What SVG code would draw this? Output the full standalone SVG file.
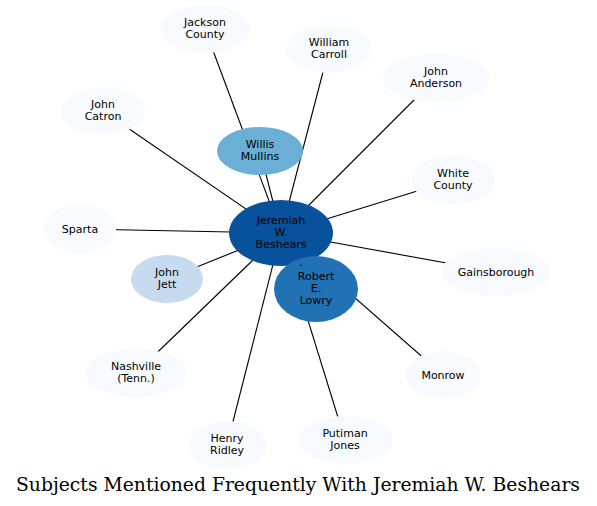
<svg xmlns="http://www.w3.org/2000/svg" width="597" height="506" viewBox="0 0 597 506">
<style>
.e line{stroke:#000;stroke-width:1.1}
.n ellipse{stroke:none}
.n text{font-family:"DejaVu Sans",sans-serif;font-size:11px;text-anchor:middle;fill:#000}
.l{fill:#f7fbff}
.t{font-family:"DejaVu Serif",serif;font-size:18.5px;text-anchor:middle;fill:#000}
</style>
<rect width="597" height="506" fill="#fff"/>
<g id="edges" class="e">
<line x1="205" y1="29" x2="281" y2="233"/>
<line x1="329" y1="49" x2="281" y2="233"/>
<line x1="436" y1="78" x2="281" y2="233"/>
<line x1="103" y1="111" x2="281" y2="233"/>
<line x1="260" y1="151" x2="281" y2="233"/>
<line x1="453" y1="180" x2="281" y2="233"/>
<line x1="80" y1="229" x2="281" y2="233"/>
<line x1="496" y1="272" x2="281" y2="233"/>
<line x1="167" y1="279" x2="281" y2="233"/>
<line x1="136" y1="373" x2="281" y2="233"/>
<line x1="227" y1="445" x2="281" y2="233"/>
<line x1="443" y1="375" x2="281" y2="233"/>
<line x1="345" y1="440" x2="281" y2="233"/>
<line x1="316" y1="289" x2="281" y2="233"/>
</g>
<g id="jackson" class="n"><ellipse class="l" cx="205" cy="29" rx="45" ry="24"/><text x="205" y="26">Jackson</text><text x="205" y="38">County</text></g>
<g id="william" class="n"><ellipse class="l" cx="329" cy="49" rx="43" ry="24"/><text x="329" y="46">William</text><text x="329" y="58">Carroll</text></g>
<g id="anderson" class="n"><ellipse class="l" cx="436" cy="78" rx="53" ry="24"/><text x="436" y="75">John</text><text x="436" y="87">Anderson</text></g>
<g id="catron" class="n"><ellipse class="l" cx="103" cy="111" rx="42" ry="24"/><text x="103" y="108">John</text><text x="103" y="120">Catron</text></g>
<g id="willis" class="n"><ellipse fill="#6baed6" cx="260" cy="151" rx="43" ry="24"/><text x="260" y="148">Willis</text><text x="260" y="160">Mullins</text></g>
<g id="white" class="n"><ellipse class="l" cx="453" cy="180" rx="42" ry="24"/><text x="453" y="177">White</text><text x="453" y="189">County</text></g>
<g id="sparta" class="n"><ellipse class="l" cx="80" cy="229" rx="36" ry="24"/><text x="80" y="232.5">Sparta</text></g>
<g id="jeremiah" class="n"><ellipse fill="#08519c" cx="281" cy="233" rx="52" ry="33"/><text x="281" y="224">Jeremiah</text><text x="281" y="236">W.</text><text x="281" y="248">Beshears</text></g>
<g id="gainsborough" class="n"><ellipse class="l" cx="496" cy="272" rx="55" ry="24"/><text x="496" y="275.5">Gainsborough</text></g>
<g id="jett" class="n"><ellipse fill="#c6dbef" cx="167" cy="279" rx="36" ry="24"/><text x="167" y="276">John</text><text x="167" y="288">Jett</text></g>
<g id="lowry" class="n"><ellipse fill="#2171b5" cx="316" cy="289" rx="42" ry="33"/><text x="301" y="266">.</text><text x="316" y="280">Robert</text><text x="316" y="292">E.</text><text x="316" y="304">Lowry</text></g>
<g id="nashville" class="n"><ellipse class="l" cx="136" cy="373" rx="51" ry="24"/><text x="136" y="370">Nashville</text><text x="136" y="382">(Tenn.)</text></g>
<g id="monrow" class="n"><ellipse class="l" cx="443" cy="375" rx="37" ry="24"/><text x="443" y="378.5">Monrow</text></g>
<g id="ridley" class="n"><ellipse class="l" cx="227" cy="445" rx="39" ry="24"/><text x="227" y="442">Henry</text><text x="227" y="454">Ridley</text></g>
<g id="putiman" class="n"><ellipse class="l" cx="345" cy="440" rx="47" ry="24"/><text x="345" y="437">Putiman</text><text x="345" y="449">Jones</text></g>
<text class="t" x="298" y="491" textLength="564" lengthAdjust="spacingAndGlyphs">Subjects Mentioned Frequently With Jeremiah W. Beshears</text>
</svg>
